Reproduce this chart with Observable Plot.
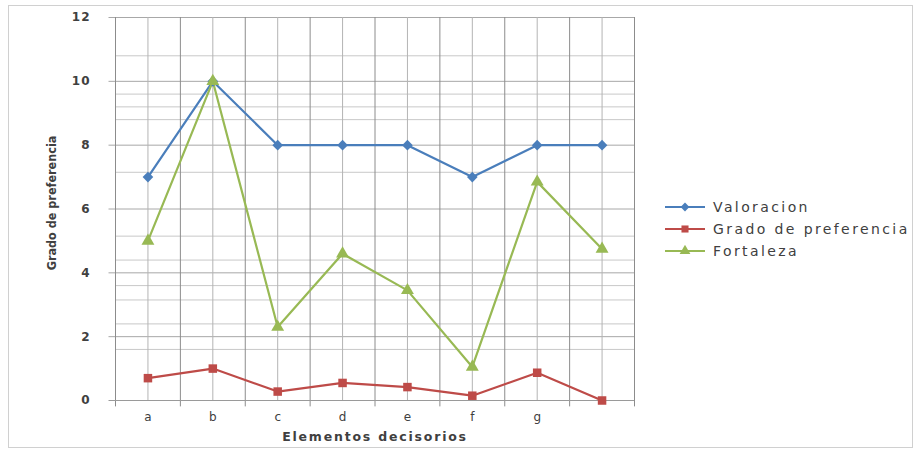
<!DOCTYPE html>
<html>
<head>
<meta charset="utf-8">
<script src="https://cdn.jsdelivr.net/npm/d3@7"></script>
<script src="https://cdn.jsdelivr.net/npm/@observablehq/plot@0.6"></script>
<style>
  html, body { margin: 0; padding: 0; background: #fff; }
  #chart { position: relative; width: 920px; height: 452px; overflow: hidden; font-family: "DejaVu Sans", Verdana, sans-serif; }
  #frame { position: absolute; left: 8px; top: 5px; width: 903px; height: 441px; border: 1px solid #d0d0d0; pointer-events: none; }
  #chart svg { position: absolute; left: 0; top: 0; }
  #chart g[aria-label="y-axis tick label"] text { font-weight: bold; letter-spacing: 1px; }
  #legend { position: absolute; left: 665px; top: 196px; font-size: 14px; letter-spacing: 2.4px; color: #404040; }
  #legend .row { display: flex; align-items: center; height: 22px; }
  #legend svg { position: static; margin-right: 8px; }
</style>
</head>
<body>
<div id="chart"><div id="frame"></div></div>
<script>
// Elementos decisorios (a..h) and the three series measured on each
const categories = ["a", "b", "c", "d", "e", "f", "g", "h"];
const tickLabels = ["a", "b", "c", "d", "e", "f", "g", ""];
const valoracion = [7, 10, 8, 8, 8, 7, 8, 8];
const gradoPreferencia = [0.7, 1.0, 0.28, 0.55, 0.42, 0.15, 0.87, 0.0];
const fortaleza = [5, 10, 2.3, 4.6, 3.45, 1.05, 6.85, 4.75];

const seriesNames = ["Valoracion", "Grado de preferencia", "Fortaleza"];
const seriesColors = ["#4a7ebb", "#be4b48", "#98b954"];
const seriesSymbols = ["diamond2", "square", "triangle"];

const yTicks = [0, 2, 4, 6, 8, 10, 12];
const minorGrid = [1.6, 2.4, 3.15, 3.6, 4.4, 5.15, 7.15, 8.8, 9.2, 9.6, 10.8];

const seriesValues = [valoracion, gradoPreferencia, fortaleza];
const rows = seriesValues.flatMap((vals, s) =>
  vals.map((v, i) => ({ pos: i + 0.5, cat: categories[i], value: v, series: seriesNames[s] }))
);

// category centres and the boundaries between categories
const centers = categories.map((_, i) => i + 0.5);
const boundaries = d3.range(0, categories.length + 1);

const chart = Plot.plot({
  width: 920,
  height: 452,
  marginLeft: 115,
  marginRight: 286,
  marginTop: 17,
  marginBottom: 52,
  style: { fontFamily: "DejaVu Sans, Verdana, sans-serif", color: "#404040", background: "transparent" },
  x: { type: "linear", domain: [0, categories.length], label: null },
  y: { domain: [0, 12], label: null },
  color: { domain: seriesNames, range: seriesColors },
  marks: [
    // horizontal grid
    Plot.ruleY(minorGrid, { x1: 0, x2: categories.length, stroke: "#c8c8c8", strokeWidth: 1 }),
    Plot.ruleY(yTicks.filter(d => d > 0), { x1: -0.1, x2: categories.length, stroke: "#a8a8a8", strokeWidth: 1 }),
    // vertical grid
    Plot.ruleX(centers, { y1: 0, y2: 12, stroke: "#b4b4b4", strokeWidth: 1 }),
    Plot.ruleX(boundaries, { y1: -0.2, y2: 12, stroke: "#8c8c8c", strokeWidth: 1 }),
    // axis baseline
    Plot.ruleY([0], { x1: -0.1, x2: categories.length, stroke: "#9a9a9a", strokeWidth: 1 }),
    Plot.axisY({ ticks: yTicks, tickSize: 0, tickPadding: 25, fontSize: 12, label: null }),
    Plot.axisX({ ticks: centers, tickSize: 0, tickPadding: 12, fontSize: 12, label: null,
      tickFormat: d => tickLabels[Math.round(d - 0.5)] }),
    // series
    Plot.line(rows, { x: "pos", y: "value", z: "series", stroke: "series", strokeWidth: 2.2 }),
    Plot.dot(rows, { x: "pos", y: "value", fill: "series", symbol: d => seriesSymbols[seriesNames.indexOf(d.series)],
      r: 4.8, stroke: null }),
    // axis titles
    Plot.text(["Elementos decisorios"], { frameAnchor: "bottom", dy: 36, fontSize: 12.5, fontWeight: "bold",
      fill: "#404040", textAnchor: "middle", lineAnchor: "middle" }),
    Plot.text(["Grado de preferencia"], { frameAnchor: "left", textAnchor: "middle", lineAnchor: "middle",
      dx: -64, dy: -6, rotate: -90, fontSize: 12.5, fontWeight: "bold", fill: "#404040",
      fontFamily: "DejaVu Sans Condensed, Liberation Sans Narrow, sans-serif" })
  ],
  symbol: { type: "ordinal" }
});
// the axis title text gets letter spacing like the legend
d3.select(chart).selectAll("text").filter(function () { return this.textContent === "Elementos decisorios"; })
  .style("letter-spacing", "1.8px");
d3.select(chart).selectAll("text").filter(function () { return this.textContent === "Grado de preferencia"; })
  .style("font-stretch", "condensed");
document.getElementById("chart").appendChild(chart);

// legend
const legend = d3.select("#chart").append("div").attr("id", "legend");
seriesNames.forEach((name, s) => {
  const row = legend.append("div").attr("class", "row");
  const sw = row.append("svg").attr("width", 40).attr("height", 12);
  sw.append("line").attr("x1", 0).attr("x2", 40).attr("y1", 6).attr("y2", 6)
    .attr("stroke", seriesColors[s]).attr("stroke-width", 2.2);
  sw.append("path").attr("transform", "translate(20,6)")
    .attr("d", d3.symbol(s === 0 ? d3.symbolDiamond2 : s === 1 ? d3.symbolSquare : d3.symbolTriangle, 50)())
    .attr("fill", seriesColors[s]);
  row.append("span").text(name);
});
</script>
</body>
</html>
